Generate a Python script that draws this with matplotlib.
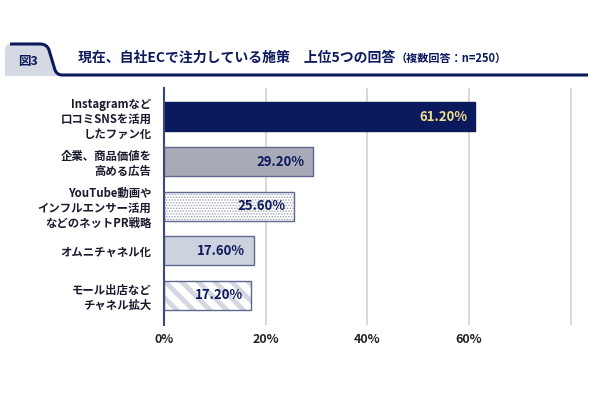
import matplotlib
matplotlib.use("Agg")
import matplotlib.pyplot as plt
from matplotlib.path import Path
from matplotlib.patches import PathPatch

plt.rcParams['font.family'] = ['Noto Sans CJK JP', 'DejaVu Sans']

# data
categories = ["Instagramなど\n口コミSNSを活用\nしたファン化",
              "企業、商品価値を\n高める広告",
              "YouTube動画や\nインフルエンサー活用\nなどのネットPR戦略",
              "オムニチャネル化",
              "モール出店など\nチャネル拡大"]
values = [61.2, 29.2, 25.6, 17.6, 17.2]
value_labels = ["61.20%", "29.20%", "25.60%", "17.60%", "17.20%"]
ticks = [0, 20, 40, 60, 80]
tick_labels = ["0%", "20%", "40%", "60%", ""]

navy = "#0b1a5c"
edge = "#5f6890"
fills = [navy, "#a8aab7", "white", "#cdd2df", "white"]
hatches = [None, None, "......", None, "\\\\"]
hatch_cols = [None, None, "#9ea3b5", None, "#d3d7e2"]
label_cols = ["#f2df8a", navy, navy, navy, navy]

fig = plt.figure(figsize=(6, 3.99), dpi=100)
ax = fig.add_axes([164/600, 1-325/399, 412/600, 237/399])

ypos = list(range(len(values)))
for i, v in enumerate(values):
    if hatches[i]:
        b = ax.barh(ypos[i], v, height=0.65, color="white", edgecolor=hatch_cols[i],
                    linewidth=0, hatch=hatches[i], zorder=2)
        for p in b:
            if hasattr(p, "set_hatch_linewidth"):
                p.set_hatch_linewidth(3.5 if "\\" in hatches[i] else 0.7)
        ax.barh(ypos[i], v, height=0.65, color="none", edgecolor=edge, linewidth=1, zorder=3)
    else:
        ec = navy if i == 0 else edge
        ax.barh(ypos[i], v, height=0.65, color=fills[i], edgecolor=ec, linewidth=1, zorder=3)
    ax.annotate(value_labels[i], xy=(v, ypos[i]), xytext=(-6, 0), textcoords="offset points",
                ha="right", va="center", fontsize=9.5, fontweight="bold",
                color=label_cols[i], zorder=4)

ax.set_xlim(0, 81)
ax.set_ylim(len(values) - 1 + 0.67, -0.65)
ax.set_xticks(ticks)
ax.set_xticklabels(tick_labels, fontsize=9, fontweight="bold", color="#222222")
ax.set_yticks(ypos)
ax.set_yticklabels(categories, fontsize=8.2, fontweight="bold", color="#1a1a2e",
                   linespacing=1.2)
ax.tick_params(axis="both", length=0)
ax.tick_params(axis="y", pad=9)
ax.tick_params(axis="x", pad=6)
ax.grid(axis="x", color="#d9d9d9", linewidth=1.5, zorder=0)
ax.set_axisbelow(True)
for s in ["top", "right", "bottom"]:
    ax.spines[s].set_visible(False)
ax.spines["left"].set_color("#3b4a80")
ax.spines["left"].set_linewidth(1.5)
ax.spines["left"].set_zorder(5)

# header
hx = fig.add_axes([0, 0, 1, 1], zorder=-1)
hx.set_xlim(0, 600)
hx.set_ylim(399, 0)
hx.axis("off")
tab = Path([(5, 76), (5, 50), (5, 44), (10, 44), (40, 44), (47, 44), (49, 50),
            (55, 70), (57, 75), (62, 76), (62, 76), (5, 76)],
           [Path.MOVETO, Path.LINETO, Path.CURVE3, Path.CURVE3, Path.LINETO, Path.CURVE3,
            Path.CURVE3, Path.LINETO, Path.CURVE3, Path.CURVE3, Path.LINETO, Path.CLOSEPOLY])
hx.add_patch(PathPatch(tab, facecolor="#d5d9e4", edgecolor="none"))
line = Path([(10, 44), (40, 44), (47, 44), (49, 50), (55, 70), (57, 75), (62, 75), (588, 75)],
            [Path.MOVETO, Path.LINETO, Path.CURVE3, Path.CURVE3, Path.LINETO, Path.CURVE3,
             Path.CURVE3, Path.LINETO])
hx.add_patch(PathPatch(line, facecolor="none", edgecolor=navy, linewidth=2.2))
hx.text(28, 62, "図3", ha="center", va="center", fontsize=9, fontweight="bold", color=navy)
t1 = hx.text(78, 58, "現在、自社ECで注力している施策　上位5つの回答", ha="left", va="center",
             fontsize=10, fontweight="bold", color=navy)
hx.annotate("（複数回答：n=250）", xy=(1, 0.45), xycoords=t1, ha="left", va="center",
            fontsize=8, fontweight="bold", color=navy)

fig.savefig("out.png", dpi=100, facecolor="white")
